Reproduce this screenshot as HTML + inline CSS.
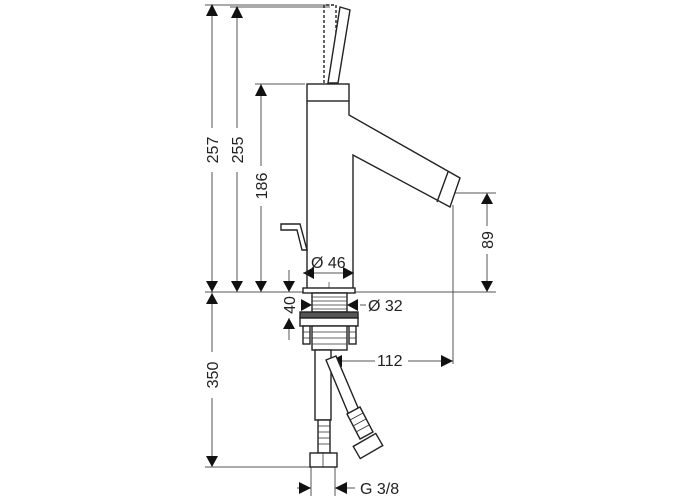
<!DOCTYPE html>
<html><head><style>
html,body{margin:0;padding:0;background:#fff;}
svg{display:block;}
text{font-family:"Liberation Sans",sans-serif;font-size:16px;fill:#222;}
</style></head><body>
<svg width="700" height="500" viewBox="0 0 700 500" xmlns="http://www.w3.org/2000/svg">
<g stroke="#555" stroke-width="1" fill="none">
<line x1="205" y1="5" x2="330" y2="5"/>
<line x1="230" y1="7" x2="330" y2="7"/>
<line x1="255" y1="84" x2="305" y2="84"/>
<line x1="205" y1="292" x2="496" y2="292"/>
<line x1="455" y1="193" x2="496" y2="193"/>
<line x1="453" y1="205" x2="453" y2="364"/>
<line x1="205" y1="467" x2="312" y2="467"/>
<line x1="311" y1="467" x2="311" y2="496"/>
<line x1="335" y1="467" x2="335" y2="496"/>
<line x1="329" y1="282" x2="329" y2="378" stroke="#777"/>
<line x1="212" y1="5" x2="212" y2="128"/><line x1="212" y1="172" x2="212" y2="292"/>
<line x1="237" y1="7" x2="237" y2="128"/><line x1="237" y1="172" x2="237" y2="292"/>
<line x1="261" y1="84" x2="261" y2="166"/><line x1="261" y1="206" x2="261" y2="292"/>
<line x1="212" y1="292" x2="212" y2="352"/><line x1="212" y1="398" x2="212" y2="467"/>
<line x1="487" y1="193" x2="487" y2="226"/><line x1="487" y1="254" x2="487" y2="292"/>
<line x1="303" y1="273" x2="354" y2="273"/>
<line x1="289" y1="270" x2="289" y2="292"/><line x1="289" y1="318" x2="289" y2="340"/>
<line x1="360" y1="305" x2="366" y2="305"/>
<line x1="330" y1="361" x2="375" y2="361"/><line x1="408" y1="361" x2="453" y2="361"/>
<line x1="297" y1="488" x2="311" y2="488"/><line x1="335" y1="488" x2="355" y2="488"/>
</g>
<g fill="#111">
<path d="M206,16 L212,4 L218,16z"/><path d="M231,18 L237,6 L243,18z"/><path d="M255,96 L261,84 L267,96z"/>
<path d="M206,281 L212,292 L218,281z"/><path d="M231,281 L237,292 L243,281z"/><path d="M255,281 L261,292 L267,281z"/><path d="M283,281 L289,292 L295,281z"/>
<path d="M206,304 L212,293 L218,304z"/><path d="M206,456 L212,467 L218,456z"/>
<path d="M481,204 L487,193 L493,204z"/><path d="M481,281 L487,292 L493,281z"/>
<path d="M283,329 L289,318 L295,329z"/>
<path d="M303,273 L314,267 L314,279z"/><path d="M354,273 L343,267 L343,279z"/>
<path d="M312,305 L301,299 L301,311z"/><path d="M347,305 L358,299 L358,311z"/>
<path d="M330,361 L342,355 L342,367z"/><path d="M453,361 L441,355 L441,367z"/>
<path d="M311,488 L299,482 L299,494z"/><path d="M335,488 L347,482 L347,494z"/>
</g>
<g stroke="#222" stroke-width="1.4" fill="#fff">
<path d="M324,83 L324,5 L336,5 L336,83" stroke-dasharray="3,2" fill="none"/>
<path d="M340,7 L350,10 L338,83 L328,83 z"/>
<rect x="307" y="84" width="42" height="17"/>
<path d="M307,101 L307,292 M349,101 L349,115 L460,178 L450,207 L353,155 L353,292" fill="none"/>
<path d="M448,172 L437,202" fill="none"/>
<path d="M281,224 L300,224 L307,250 L302,250 L297,230 L281,230 z"/>
<rect x="303" y="288" width="52" height="5"/>
<rect x="312" y="293" width="35" height="19"/>
<rect x="300" y="312" width="58" height="6" fill="#555"/>
<rect x="300" y="318" width="58" height="8"/>
<rect x="312" y="326" width="35" height="24"/>
<rect x="303" y="326" width="7" height="18"/><rect x="349" y="326" width="7" height="18"/>
<rect x="315" y="350" width="16" height="70"/>
<rect x="318" y="420" width="12" height="33"/>
<rect x="310" y="453" width="27" height="14"/>
<path d="M326,360 L336,356 L359,410 L349,415 z"/>
<path d="M347,414 L360,407 L373,432 L360,439 z"/>
<g transform="rotate(-30 368 446)"><rect x="355" y="439" width="26" height="14"/></g>
</g>
<g stroke="#333" stroke-width="0.8">
<line x1="312" y1="297" x2="347" y2="297"/><line x1="312" y1="301" x2="347" y2="301"/><line x1="312" y1="305" x2="347" y2="305"/><line x1="312" y1="309" x2="347" y2="309"/>
<line x1="312" y1="332" x2="347" y2="332"/><line x1="312" y1="338" x2="347" y2="338"/><line x1="312" y1="344" x2="347" y2="344"/>
<line x1="303" y1="332" x2="310" y2="332"/><line x1="303" y1="338" x2="310" y2="338"/><line x1="349" y1="332" x2="356" y2="332"/><line x1="349" y1="338" x2="356" y2="338"/>
<line x1="318" y1="426" x2="330" y2="426"/><line x1="318" y1="432" x2="330" y2="432"/><line x1="318" y1="438" x2="330" y2="438"/><line x1="318" y1="444" x2="330" y2="444"/>
<line x1="350" y1="420" x2="363" y2="413"/><line x1="353" y1="426" x2="366" y2="419"/><line x1="356" y1="432" x2="369" y2="425"/>
<line x1="323" y1="453" x2="323" y2="467"/>
</g>
<text transform="translate(218,150) rotate(-90)" text-anchor="middle">257</text>
<text transform="translate(243,150) rotate(-90)" text-anchor="middle">255</text>
<text transform="translate(267,186) rotate(-90)" text-anchor="middle">186</text>
<text transform="translate(218,375) rotate(-90)" text-anchor="middle">350</text>
<text transform="translate(493,240) rotate(-90)" text-anchor="middle">89</text>
<text transform="translate(295,305) rotate(-90)" text-anchor="middle">40</text>
<text x="311" y="268">Ø 46</text>
<text x="368" y="311">Ø 32</text>
<text x="377" y="366">112</text>
<text x="360" y="494">G 3/8</text>
</svg>
</body></html>
